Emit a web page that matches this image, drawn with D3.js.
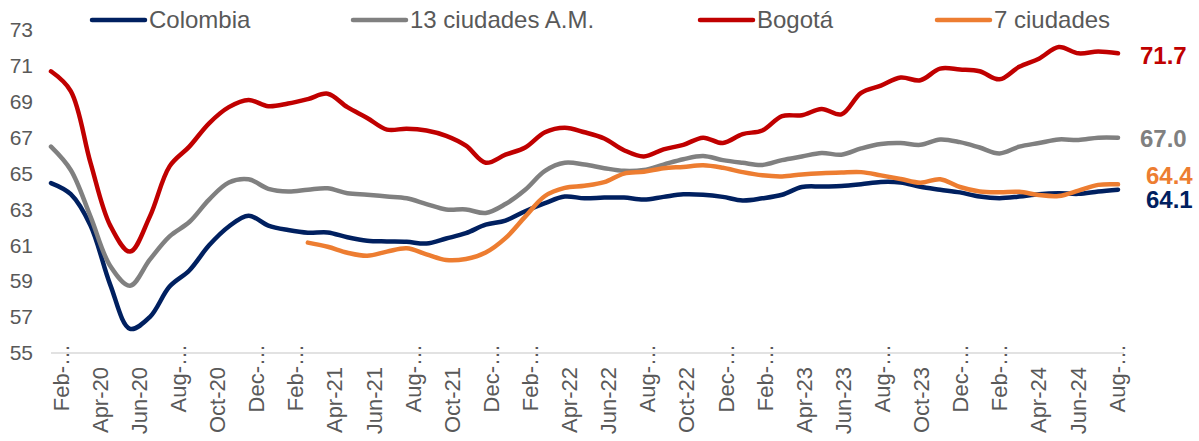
<!DOCTYPE html>
<html>
<head>
<meta charset="utf-8">
<script src="https://cdn.jsdelivr.net/npm/d3@7"></script>
<style>
  body { margin: 0; background: #fff; }
  svg { display: block; font-family: "Liberation Sans", Arial, sans-serif; }
</style>
</head>
<body>
<div id="chart"></div>
<script>
// months Feb-20 .. Aug-24
var months = ['Feb-20','Mar-20','Apr-20','May-20','Jun-20','Jul-20','Aug-20','Sep-20','Oct-20','Nov-20','Dec-20',
  'Jan-21','Feb-21','Mar-21','Apr-21','May-21','Jun-21','Jul-21','Aug-21','Sep-21','Oct-21','Nov-21','Dec-21',
  'Jan-22','Feb-22','Mar-22','Apr-22','May-22','Jun-22','Jul-22','Aug-22','Sep-22','Oct-22','Nov-22','Dec-22',
  'Jan-23','Feb-23','Mar-23','Apr-23','May-23','Jun-23','Jul-23','Aug-23','Sep-23','Oct-23','Nov-23','Dec-23',
  'Jan-24','Feb-24','Mar-24','Apr-24','May-24','Jun-24','Jul-24','Aug-24'];

// tick labels as they show up (every 2nd month, some cut off)
var tickLabels = ['Feb-…','Apr-20','Jun-20','Aug-…','Oct-20','Dec-…','Feb-…','Apr-21','Jun-21','Aug-…','Oct-21','Dec-…',
  'Feb-…','Apr-22','Jun-22','Aug-…','Oct-22','Dec-…','Feb-…','Apr-23','Jun-23','Aug-…','Oct-23','Dec-…',
  'Feb-…','Apr-24','Jun-24','Aug-…'];

var yTicks = [55, 57, 59, 61, 63, 65, 67, 69, 71, 73];

var colombia = [64.47,63.85,62.1,58.8,56.35,57.0,58.7,59.6,61.0,62.05,62.65,
  62.1,61.85,61.7,61.72,61.45,61.26,61.22,61.2,61.1,61.38,61.68,62.15,
  62.38,62.9,63.35,63.72,63.62,63.66,63.66,63.55,63.7,63.84,63.82,63.7,
  63.5,63.62,63.82,64.25,64.28,64.3,64.4,64.53,64.5,64.26,64.1,63.95,
  63.72,63.63,63.72,63.85,63.9,63.87,64.0,64.1];

var ciudades13 = [66.5,65.2,62.6,59.85,58.75,60.2,61.5,62.3,63.55,64.5,64.68,
  64.15,64.0,64.1,64.18,63.9,63.82,63.72,63.62,63.3,63.0,63.0,62.8,
  63.3,64.1,65.15,65.6,65.5,65.3,65.15,65.2,65.5,65.8,65.98,65.75,
  65.6,65.48,65.75,65.95,66.15,66.05,66.4,66.65,66.7,66.6,66.9,66.75,
  66.45,66.12,66.5,66.7,66.9,66.87,67.0,67.0];

var bogota = [70.7,69.6,65.6,62.1,60.65,62.6,65.4,66.5,67.8,68.7,69.1,
  68.75,68.9,69.15,69.45,68.7,68.1,67.45,67.5,67.4,67.1,66.55,65.6,
  66.05,66.45,67.3,67.55,67.3,66.95,66.3,65.95,66.35,66.6,67.0,66.7,
  67.2,67.4,68.2,68.25,68.6,68.3,69.5,69.9,70.35,70.2,70.85,70.8,
  70.7,70.25,70.95,71.4,72.05,71.7,71.8,71.7];

// 7 ciudades starts in Mar-21
var ciudades7 = [null,null,null,null,null,null,null,null,null,null,null,
  null,null,61.15,60.92,60.59,60.42,60.65,60.84,60.5,60.18,60.24,60.6,
  61.4,62.6,63.75,64.2,64.32,64.52,65.0,65.1,65.3,65.37,65.46,65.32,
  65.08,64.9,64.84,64.95,65.02,65.06,65.08,64.9,64.7,64.49,64.68,64.25,
  64.0,63.96,63.98,63.8,63.75,64.05,64.37,64.4];

var seriesNames = ['Colombia', '13 ciudades A.M.', 'Bogotá', '7 ciudades'];
var seriesColors = ['#002060', '#808080', '#C00000', '#ED7D31'];
var seriesValues = [colombia, ciudades13, bogota, ciudades7];
var endLabels = ['64.1', '67.0', '71.7', '64.4'];

var width = 1199;
var height = 441;

var svg = d3.select('#chart').append('svg')
  .attr('width', width)
  .attr('height', height);

var x = d3.scalePoint().domain(months).range([51, 1118]);
// tick text sits a bit off the points, like in the original
var xLabel = d3.scalePoint().domain(d3.range(tickLabels.length)).range([61, 1117]);
var y = d3.scaleLinear().domain([55, 73]).range([353, 30]);

// y axis labels
var yAxis = svg.append('g')
  .attr('transform', 'translate(33,0)')
  .call(d3.axisLeft(y).tickValues(yTicks).tickSize(0).tickPadding(0));
yAxis.select('.domain').remove();
yAxis.selectAll('text')
  .attr('fill', '#595959')
  .style('font-size', '21px')
  .style('font-family', '"Liberation Sans", Arial, sans-serif');

// x axis line
svg.append('line')
  .attr('x1', 51)
  .attr('x2', 1124)
  .attr('y1', y(55))
  .attr('y2', y(55))
  .attr('stroke', '#d9d9d9')
  .attr('stroke-width', 1.5);

// x tick labels (rotated)
svg.selectAll('.xlab')
  .data(tickLabels)
  .enter()
  .append('text')
  .attr('class', 'xlab')
  .attr('transform', function (d, i) {
    var yy = d.indexOf('…') >= 0 ? 344 : 367;
    return 'translate(' + xLabel(i) + ',' + yy + ') rotate(-90)';
  })
  .attr('dy', '0.35em')
  .attr('text-anchor', 'end')
  .attr('fill', '#595959')
  .style('font-size', '22px')
  .text(function (d) { return d; });

// lines
var line = d3.line()
  .defined(function (d) { return d !== null; })
  .x(function (d, i) { return x(months[i]); })
  .y(function (d) { return y(d); })
  .curve(d3.curveCatmullRom.alpha(0.5));

svg.selectAll('.series')
  .data(seriesValues)
  .enter()
  .append('path')
  .attr('class', 'series')
  .attr('d', function (d) { return line(d); })
  .attr('fill', 'none')
  .attr('stroke', function (d, i) { return seriesColors[i]; })
  .attr('stroke-width', 4.5)
  .attr('stroke-linecap', 'round')
  .attr('stroke-linejoin', 'round');

// end value labels
var endPos = [
  { dx: 1146, dy: 10 },  // Colombia
  { dx: 1140, dy: 1 },   // 13 ciudades
  { dx: 1140, dy: 2 },   // Bogota
  { dx: 1146, dy: -9 }   // 7 ciudades
];
svg.selectAll('.endlab')
  .data(endLabels)
  .enter()
  .append('text')
  .attr('class', 'endlab')
  .attr('x', function (d, i) { return endPos[i].dx; })
  .attr('y', function (d, i) { return y(+d) + endPos[i].dy; })
  .attr('dy', '0.35em')
  .attr('fill', function (d, i) { return seriesColors[i]; })
  .style('font-size', '24px')
  .style('font-weight', 'bold')
  .text(function (d) { return d; });

// legend
var legendX = [92, 353, 700, 937];
var legend = svg.selectAll('.legend')
  .data(seriesNames)
  .enter()
  .append('g')
  .attr('class', 'legend')
  .attr('transform', function (d, i) { return 'translate(' + legendX[i] + ',20)'; });

legend.append('line')
  .attr('x1', 0)
  .attr('x2', 53)
  .attr('stroke', function (d, i) { return seriesColors[i]; })
  .attr('stroke-width', 4.5)
  .attr('stroke-linecap', 'round');

legend.append('text')
  .attr('x', 57)
  .attr('dy', '0.35em')
  .attr('fill', '#595959')
  .style('font-size', '24px')
  .text(function (d) { return d; });
</script>
</body>
</html>
